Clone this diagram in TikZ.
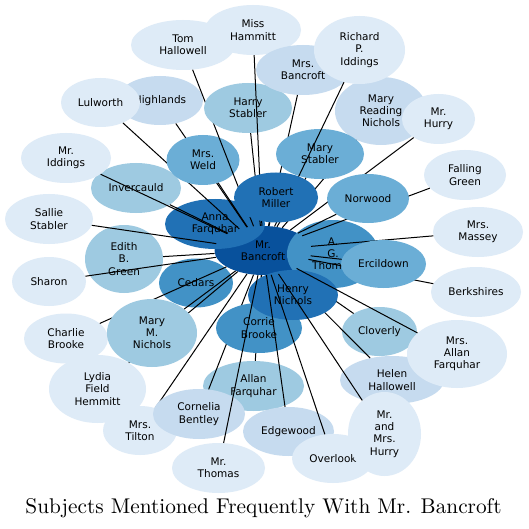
\documentclass[tikz,border=0pt]{standalone}
\usepackage{fontspec}
\newfontfamily\lab{DejaVu Sans}
\newfontfamily\ttl{lmroman10-regular.otf}
\usetikzlibrary{shapes.geometric}
\definecolor{b1}{HTML}{DEEBF7}
\definecolor{b2}{HTML}{C6DBEF}
\definecolor{b3}{HTML}{9ECAE1}
\definecolor{b4}{HTML}{6BAED6}
\definecolor{b5}{HTML}{4292C6}
\definecolor{b6}{HTML}{2171B5}
\definecolor{b7}{HTML}{08519C}
\tikzset{
  bub/.style={ellipse, inner sep=0pt, align=center, text=black,
    font=\lab\fontsize{10.5}{12.2}\selectfont},
  lnk/.style={draw=black, line width=1pt},
}
\newcommand{\bb}[7]{\node[bub, fill=#2, minimum width=#5pt, minimum height=#6pt] (#1) at (#3,#4) {#7};}
\begin{document}
\begin{tikzpicture}[x=1pt,y=-1pt]
\useasboundingbox[fill=white] (0,0) rectangle (528,529);
\bb{bancroft}{b7}{263}{250.5}{97}{49}{Mr.\\Bancroft}
\bb{anna}{b6}{215}{224}{100}{50}{Anna\\Farquhar}
\bb{thom}{b5}{333}{254}{92}{68}{A.\\G.\\Thomas}
\bb{cedars}{b5}{196}{283}{74}{49}{Cedars}
\bb{charlie}{b1}{66}{338.5}{84}{50}{Charlie\\Brooke}
\draw[lnk] (bancroft) -- (charlie);
\bb{lydia}{b1}{97.5}{389}{97}{68}{Lydia\\Field\\Hemmitt}
\draw[lnk] (bancroft) -- (lydia);
\bb{tilton}{b1}{140}{430.5}{74}{49}{Mrs.\\Tilton}
\draw[lnk] (bancroft) -- (tilton);
\bb{allanf}{b3}{253.5}{386}{101}{50}{Allan\\Farquhar}
\draw[lnk] (bancroft) -- (allanf);
\bb{cornelia}{b2}{199}{414}{92}{50}{Cornelia\\Bentley}
\draw[lnk] (bancroft) -- (cornelia);
\bb{corrie}{b5}{259}{328}{86}{50}{Corrie\\Brooke}
\draw[lnk] (bancroft) -- (corrie);
\bb{cloverly}{b3}{379.5}{331.5}{75}{49}{Cloverly}
\draw[lnk] (bancroft) -- (cloverly);
\bb{helen}{b2}{392}{380}{104}{48}{Helen\\Hallowell}
\draw[lnk] (bancroft) -- (helen);
\bb{henry}{b6}{293}{295}{90}{50}{Henry\\Nichols}
\bb{edgewood}{b2}{288.5}{431.5}{91}{49}{Edgewood}
\draw[lnk] (bancroft) -- (edgewood);
\bb{overlook}{b1}{333}{458.5}{82}{49}{Overlook}
\draw[lnk] (bancroft) -- (overlook);
\bb{mmhurry}{b1}{384.5}{434}{73}{84}{Mr.\\and\\Mrs.\\Hurry}
\draw[lnk] (bancroft) -- (mmhurry);
\bb{maf}{b1}{457}{354}{100}{68}{Mrs.\\Allan\\Farquhar}
\draw[lnk] (bancroft) -- (maf);
\bb{mrthomas}{b1}{218.5}{468}{93}{50}{Mr.\\Thomas}
\draw[lnk] (bancroft) -- (mrthomas);
\bb{mmn}{b3}{152}{333}{90}{68}{Mary\\M.\\Nichols}
\draw[lnk] (bancroft) -- (mmn);
\bb{edith}{b3}{124}{259}{78}{68}{Edith\\B.\\Green}
\draw[lnk] (bancroft) -- (edith);
\bb{sharon}{b1}{49}{281.5}{74}{49}{Sharon}
\draw[lnk] (bancroft) -- (sharon);
\bb{sallie}{b1}{49}{219}{88}{50}{Sallie\\Stabler}
\draw[lnk] (bancroft) -- (sallie);
\bb{invercauld}{b3}{136}{188}{90}{50}{Invercauld}
\draw[lnk] (bancroft) -- (invercauld);
\bb{iddings}{b1}{66}{158}{90}{50}{Mr.\\Iddings}
\draw[lnk] (bancroft) -- (iddings);
\bb{highlands}{b2}{160}{100.5}{86}{49}{Highlands}
\draw[lnk] (bancroft) -- (highlands);
\bb{lulworth}{b1}{100.5}{102.5}{79}{49}{Lulworth}
\draw[lnk] (bancroft) -- (lulworth);
\bb{weld}{b4}{203}{160}{73}{50}{Mrs.\\Weld}
\draw[lnk] (bancroft) -- (weld);
\bb{tom}{b1}{183}{45}{104}{50}{Tom\\Hallowell}
\draw[lnk] (bancroft) -- (tom);
\bb{harry}{b3}{248}{108}{88}{50}{Harry\\Stabler}
\draw[lnk] (bancroft) -- (harry);
\bb{hammitt}{b1}{253}{30}{96}{50}{Miss\\Hammitt}
\draw[lnk] (bancroft) -- (hammitt);
\bb{mrsbancroft}{b2}{303}{70}{94}{50}{Mrs.\\Bancroft}
\draw[lnk] (bancroft) -- (mrsbancroft);
\bb{mrn}{b2}{381}{111}{92}{68}{Mary\\Reading\\Nichols}
\draw[lnk] (bancroft) -- (mrn);
\bb{marystabler}{b4}{320}{154}{88}{50}{Mary\\Stabler}
\draw[lnk] (bancroft) -- (marystabler);
\bb{richard}{b1}{359.5}{50}{91}{68}{Richard\\P.\\Iddings}
\draw[lnk] (bancroft) -- (richard);
\bb{mrhurry}{b1}{438.5}{119}{73}{50}{Mr.\\Hurry}
\draw[lnk] (bancroft) -- (mrhurry);
\bb{falling}{b1}{465}{175}{82}{50}{Falling\\Green}
\draw[lnk] (bancroft) -- (falling);
\bb{norwood}{b4}{368}{198.5}{82}{49}{Norwood}
\draw[lnk] (bancroft) -- (norwood);
\bb{massey}{b1}{478}{232}{90}{50}{Mrs.\\Massey}
\draw[lnk] (bancroft) -- (massey);
\bb{berkshires}{b1}{476}{292}{90}{50}{Berkshires}
\draw[lnk] (bancroft) -- (berkshires);
\bb{ercildown}{b4}{383.5}{264}{85}{48}{Ercildown}
\draw[lnk] (bancroft) -- (ercildown);
\bb{miller}{b6}{276}{197.5}{84}{50}{Robert\\Miller}
\draw[lnk] (bancroft) -- (miller);
\node[font=\ttl\fontsize{21.3}{25}\selectfont, anchor=base, inner sep=0pt] (title) at (263.5,513.5) {Subjects Mentioned Frequently With Mr. Bancroft};
\end{tikzpicture}
\end{document}
